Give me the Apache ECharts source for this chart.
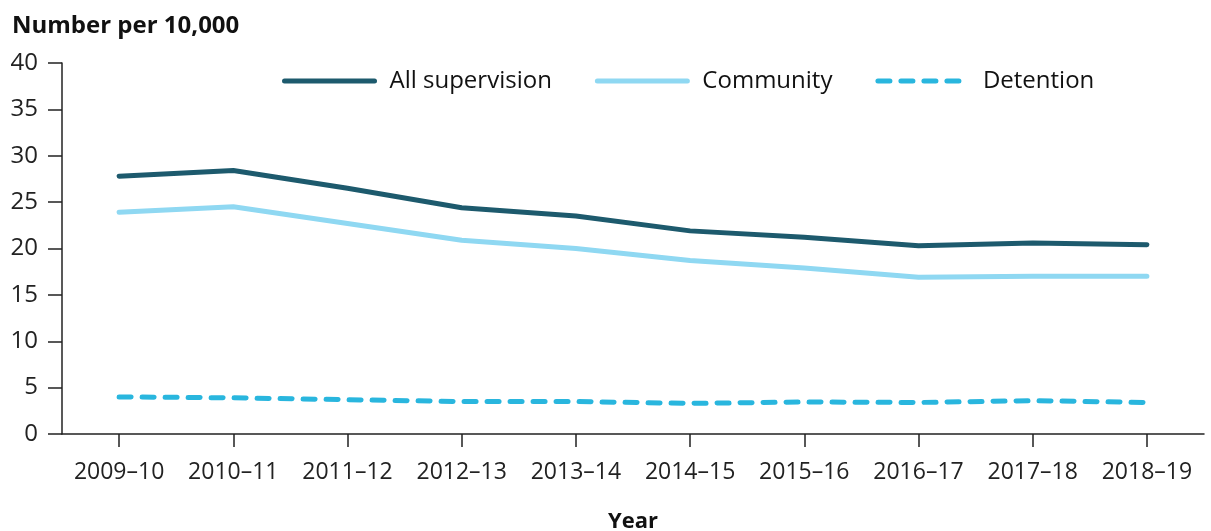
<!DOCTYPE html>
<html>
<head>
<meta charset="utf-8">
<script src="https://cdn.jsdelivr.net/npm/echarts@6/dist/echarts.min.js"></script>
<style>
  html, body { margin: 0; padding: 0; background: #fff; }
  #chart { width: 1211px; height: 531px; }
</style>
</head>
<body>
<div id="chart"></div>
<script>
var years = ['2009–10', '2010–11', '2011–12', '2012–13', '2013–14', '2014–15', '2015–16', '2016–17', '2017–18', '2018–19'];
var allSupervision = [27.8, 28.4, 26.5, 24.4, 23.5, 21.9, 21.2, 20.3, 20.6, 20.4];
var community = [23.9, 24.5, 22.7, 20.9, 20.0, 18.7, 17.9, 16.9, 17.0, 17.0];
var detention = [4.0, 3.9, 3.7, 3.5, 3.5, 3.3, 3.45, 3.4, 3.6, 3.4];

var font = "'Open Sans', 'Noto Sans', sans-serif";

var myChart;
document.addEventListener("DOMContentLoaded", function() {
    myChart = echarts.init(document.getElementById('chart'));
    var option = {
        animation: false,
        textStyle: { fontFamily: font },
        title: {
            text: 'Number per 10,000',
            left: 7,
            top: 9,
            textStyle: { fontFamily: font, fontSize: 24, fontWeight: 'bold', color: '#111' }
        },
        legend: {
            left: 277,
            top: 64,
            itemWidth: 90,
            itemHeight: 14,
            itemGap: 43,
            itemStyle: { opacity: 0 },
            lineStyle: { width: 'inherit' },
            textStyle: { fontFamily: font, fontSize: 24, color: '#111', padding: [0, 0, 0, 10] },
            data: ['All supervision', 'Community', 'Detention']
        },
        grid: { left: 62, right: 7, top: 63, bottom: 97, containLabel: false, outerBoundsMode: 'none' },
        xAxis: {
            type: 'category',
            data: years,
            name: 'Year',
            nameLocation: 'middle',
            nameGap: 77,
            nameTextStyle: { fontFamily: font, fontSize: 22, fontWeight: 'bold', color: '#111' },
            axisLine: { show: true, lineStyle: { color: '#222', width: 1.5 } },
            axisTick: { show: true, alignWithLabel: true, interval: 0, length: 13, lineStyle: { color: '#222', width: 1.5 } },
            axisLabel: { interval: 0, fontFamily: font, fontSize: 23, color: '#222', margin: 27 }
        },
        yAxis: {
            type: 'value',
            min: 0,
            max: 40,
            interval: 5,
            axisLine: { show: true, lineStyle: { color: '#222', width: 1.5 } },
            axisTick: { show: true, length: 14, lineStyle: { color: '#222', width: 1.5 } },
            axisLabel: { fontFamily: font, fontSize: 24, color: '#222', margin: 24 },
            splitLine: { show: false }
        },
        series: [{
            name: 'All supervision',
            type: 'line',
            data: allSupervision,
            symbol: 'none',
            color: '#1d5a6d',
            lineStyle: { width: 5, color: '#1d5a6d', cap: 'round', join: 'round' }
        }, {
            name: 'Community',
            type: 'line',
            data: community,
            symbol: 'none',
            color: '#8fd8f2',
            lineStyle: { width: 5, color: '#8fd8f2', cap: 'round', join: 'round' }
        }, {
            name: 'Detention',
            type: 'line',
            data: detention,
            symbol: 'none',
            color: '#29b6de',
            lineStyle: { width: 5, color: '#29b6de', type: [12, 11], cap: 'round', join: 'round' }
        }]
    };
    myChart.setOption(option);
});
</script>
</body>
</html>
